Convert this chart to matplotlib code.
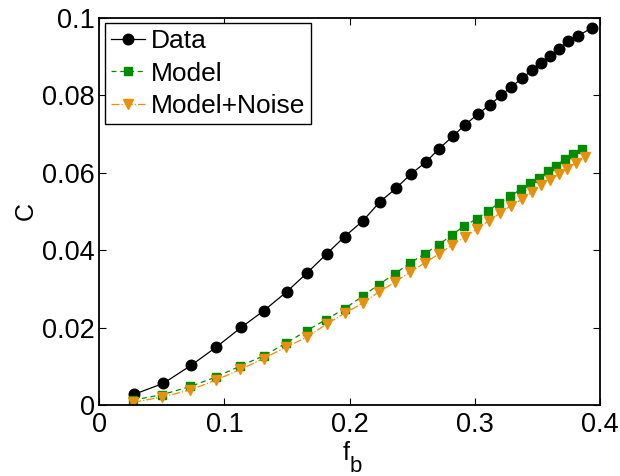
import matplotlib
matplotlib.use("Agg")
import matplotlib.pyplot as plt

# Data
data_x = [0.028, 0.0512, 0.0736, 0.0936, 0.1136, 0.1312, 0.1496, 0.1656, 0.1816, 0.196,
          0.2104, 0.224, 0.2368, 0.2488, 0.2608, 0.2712, 0.2824, 0.292, 0.3024, 0.312,
          0.3208, 0.3288, 0.3376, 0.3456, 0.3528, 0.36, 0.3672, 0.3744, 0.3824, 0.3936]
data_c = [0.0028, 0.0056, 0.0103, 0.0150, 0.0201, 0.0243, 0.0292, 0.0340, 0.0390, 0.0435,
          0.0475, 0.0524, 0.0559, 0.0596, 0.0627, 0.0661, 0.0694, 0.0723, 0.0751, 0.0775,
          0.0799, 0.0821, 0.0843, 0.0865, 0.0884, 0.0902, 0.0919, 0.0939, 0.0953, 0.0974]

model_x = [0.0272, 0.0504, 0.0728, 0.0936, 0.1128, 0.1312, 0.1488, 0.1656, 0.1808, 0.196,
           0.2104, 0.2232, 0.236, 0.248, 0.26, 0.2712, 0.2816, 0.2912, 0.3016, 0.3104,
           0.3192, 0.328, 0.3368, 0.344, 0.3512, 0.3584, 0.3648, 0.372, 0.3784, 0.3856]
model_c = [0.0013, 0.0027, 0.0048, 0.0073, 0.0101, 0.0127, 0.0159, 0.0192, 0.0220, 0.0249,
           0.0281, 0.0311, 0.0339, 0.0366, 0.0391, 0.0414, 0.0439, 0.0462, 0.0481, 0.0501,
           0.0521, 0.0539, 0.0557, 0.0574, 0.0587, 0.0604, 0.0618, 0.0635, 0.0648, 0.0662]

noise_x = [0.0272, 0.0504, 0.0728, 0.0936, 0.1128, 0.1312, 0.1488, 0.1656, 0.1816, 0.196,
           0.2104, 0.2232, 0.236, 0.248, 0.26, 0.2712, 0.2816, 0.292, 0.3016, 0.3112,
           0.32, 0.3288, 0.3376, 0.3456, 0.3528, 0.36, 0.3672, 0.3736, 0.3808, 0.388]
noise_c = [0.0007, 0.0021, 0.0039, 0.0065, 0.0092, 0.0120, 0.0149, 0.0175, 0.0209, 0.0237,
           0.0263, 0.0292, 0.0317, 0.0343, 0.0367, 0.0390, 0.0413, 0.0434, 0.0454, 0.0476,
           0.0495, 0.0515, 0.0531, 0.0550, 0.0567, 0.0581, 0.0596, 0.0610, 0.0625, 0.0641]

x_ticks = [0, 0.1, 0.2, 0.3, 0.4]
y_ticks = [0, 0.02, 0.04, 0.06, 0.08, 0.1]

plt.rcParams["font.family"] = ["Liberation Sans", "DejaVu Sans"]

fs = 19.5

fig = plt.figure(figsize=(6.2, 4.76), dpi=100)
ax = fig.add_axes([0.16, 0.149, 0.808, 0.814])

ax.plot(data_x, data_c, color="black", marker="o", markersize=7.6, linewidth=0.9,
        label="Data")
ax.plot(model_x, model_c, color="#008C00", marker="s", markersize=5.8, linestyle="--",
        linewidth=0.9, dashes=(4, 3), label="Model")
ax.plot(noise_x, noise_c, color="#E8900C", marker="v", markersize=7.2, linestyle="-.",
        linewidth=0.9, label="Model+Noise")

ax.set_xlim(0, 0.4)
ax.set_ylim(0, 0.1)
ax.set_xticks(x_ticks)
ax.set_yticks(y_ticks)
ax.set_xticklabels(["%g" % v for v in x_ticks])
ax.set_yticklabels(["%g" % v for v in y_ticks])
ax.tick_params(direction="in", length=5, width=0.8, labelsize=fs, top=True, right=True)
ax.tick_params(axis="y", pad=3)
ax.tick_params(axis="x", pad=5)
for sp in ax.spines.values():
    sp.set_linewidth(1.3)

# x label "f_b" MATLAB style: large, low subscript
ax.text(0.499, -0.142, "f", transform=ax.transAxes, fontsize=18,
        ha="right", va="baseline")
ax.text(0.499, -0.173, "b", transform=ax.transAxes, fontsize=16,
        ha="left", va="baseline")
ax.set_ylabel("C", fontsize=18, labelpad=3)

leg = ax.legend(loc="upper left", fontsize=19, frameon=True, fancybox=False,
                handlelength=1.3, handletextpad=0.2, borderpad=0.22, labelspacing=0.32,
                borderaxespad=0.22)
leg.get_frame().set_edgecolor("black")
leg.get_frame().set_linewidth(1.0)
leg.get_frame().set_alpha(1)

fig.savefig("out.png", dpi=100)
